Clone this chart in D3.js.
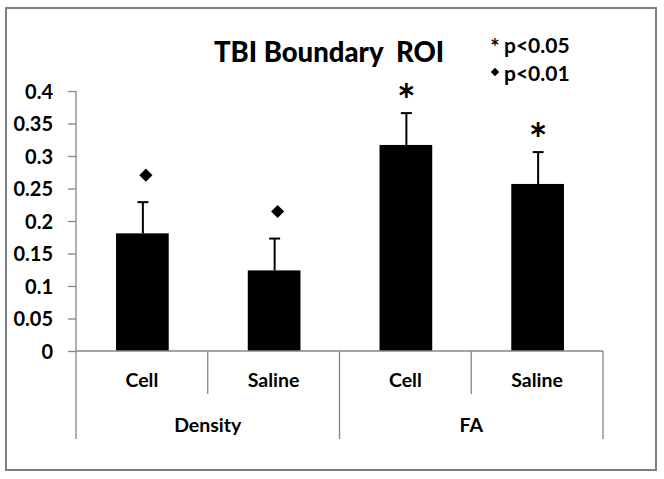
<!DOCTYPE html>
<html><head><meta charset="utf-8">
<script src="https://cdn.jsdelivr.net/npm/d3@7"></script>
<style>html,body{margin:0;padding:0;background:#fff;}svg{display:block;}</style>
</head><body>
<script>
const groups = ["Density", "FA"];
const categories = ["Cell", "Saline", "Cell", "Saline"];
const categoryGroup = [0, 0, 1, 1];
const values = [0.181, 0.124, 0.317, 0.257];
const errors = [0.048, 0.049, 0.049, 0.049];
const markers = ["diamond", "diamond", "asterisk", "asterisk"];
const yTicks = [0, 0.05, 0.1, 0.15, 0.2, 0.25, 0.3, 0.35, 0.4];
const yTickLabels = ["0", "0.05", "0.1", "0.15", "0.2", "0.25", "0.3", "0.35", "0.4"];
const title = "TBI Boundary  ROI";
const legendItems = [{sym: "*", label: "p<0.05"}, {sym: "\u25C6", label: "p<0.01"}];

const W = 664, H = 479;
const FONT = "Lato, 'Open Sans', sans-serif";
const AXIS = "#868686";

const svg = d3.select("body").append("svg").attr("width", W).attr("height", H);
svg.append("rect").attr("x", 0).attr("y", 0).attr("width", W).attr("height", H).attr("fill", "#fff");
svg.append("rect").attr("x", 6).attr("y", 8).attr("width", 650).attr("height", 462)
  .attr("fill", "none").attr("stroke", "#7f7f7f").attr("stroke-width", 2);

const y = d3.scaleLinear().domain([0, 0.4]).range([351, 91]);
const x = d3.scaleBand().domain(d3.range(categories.length)).range([76, 603]).padding(0);

// y axis
const yAxis = d3.axisLeft(y).tickValues(yTicks).tickSize(8).tickPadding(15)
  .tickFormat((d, i) => yTickLabels[i]);
const gy = svg.append("g").attr("transform", "translate(76,0)").call(yAxis);
gy.select(".domain").attr("stroke", AXIS).attr("stroke-width", 1.3).attr("d", "M0,91V351");
gy.selectAll(".tick line").attr("stroke", AXIS).attr("stroke-width", 1.3);
gy.selectAll(".tick text").attr("font-family", FONT).attr("font-weight", "bold")
  .attr("font-size", 20).attr("fill", "#000").attr("dy", "0.35em");

// bars
const barW = x.bandwidth() * 0.4;
svg.append("g").selectAll("rect").data(values).join("rect")
  .attr("x", (d, i) => x(i) + x.bandwidth() / 2 - barW / 2 + 0.5)
  .attr("y", d => y(d))
  .attr("width", barW)
  .attr("height", d => y(0) - y(d))
  .attr("fill", "#000");

// error bars
const eg = svg.append("g").attr("stroke", "#000").attr("stroke-width", 2);
values.forEach((v, i) => {
  const cx = x(i) + x.bandwidth() / 2 + 1;
  eg.append("line").attr("x1", cx).attr("x2", cx).attr("y1", y(v)).attr("y2", y(v + errors[i]));
  eg.append("line").attr("x1", cx - 5.5).attr("x2", cx + 5.5).attr("y1", y(v + errors[i])).attr("y2", y(v + errors[i]));
});

// significance markers
values.forEach((v, i) => {
  const cx = x(i) + x.bandwidth() / 2 + 1;
  const top = y(v + errors[i]);
  if (markers[i] === "diamond") {
    svg.append("path").attr("d", d3.symbol(d3.symbolDiamond2, 110)())
      .attr("transform", `translate(${cx + 3},${top - 27})`).attr("fill", "#000");
  } else {
    svg.append("text").attr("x", cx).attr("y", top + 3).attr("text-anchor", "middle")
      .attr("font-family", FONT).attr("font-weight", "bold").attr("font-size", 44).text("*");
  }
});

// x axis
const xa = svg.append("g").attr("stroke", AXIS).attr("stroke-width", 1.3);
xa.append("line").attr("x1", 76).attr("x2", 603).attr("y1", 351).attr("y2", 351);
const bounds = d3.range(categories.length + 1).map(i => i < categories.length ? x(i) : x.range()[1]);
bounds.forEach((bx, i) => {
  const isGroupEdge = i === 0 || i === categories.length || categoryGroup[i] !== categoryGroup[i - 1];
  xa.append("line").attr("x1", bx).attr("x2", bx).attr("y1", 351).attr("y2", isGroupEdge ? 439 : 394);
});
svg.append("g").selectAll("text").data(categories).join("text")
  .attr("x", (d, i) => x(i) + x.bandwidth() / 2)
  .attr("y", 387).attr("text-anchor", "middle")
  .attr("font-family", FONT).attr("font-weight", "bold").attr("font-size", 19.5).text(d => d);
svg.append("g").selectAll("text").data(groups).join("text")
  .attr("x", (d, gi) => {
    const idx = categoryGroup.map((g, i) => g === gi ? i : -1).filter(i => i >= 0);
    return (x(idx[0]) + x(idx[idx.length - 1]) + x.bandwidth()) / 2;
  })
  .attr("y", 432).attr("text-anchor", "middle")
  .attr("font-family", FONT).attr("font-weight", "bold").attr("font-size", 19.5).text(d => d);

// title
svg.append("text").attr("x", 329).attr("y", 62).attr("text-anchor", "middle")
  .style("white-space", "pre")
  .attr("font-family", FONT).attr("font-weight", "900").attr("font-size", 27.5).text(title);

// legend
legendItems.forEach((it, i) => {
  const ly = 53 + i * 28;
  if (it.sym === "*") {
    svg.append("text").attr("x", 495).attr("y", ly + 2).attr("text-anchor", "middle")
      .attr("font-family", FONT).attr("font-weight", "bold").attr("font-size", 22).text("*");
  } else {
    svg.append("path").attr("d", d3.symbol(d3.symbolDiamond2, 45)())
      .attr("transform", `translate(495,${ly - 9})`).attr("fill", "#000");
  }
  svg.append("text").attr("x", 504).attr("y", ly).attr("font-family", FONT)
    .attr("font-weight", "bold").attr("font-size", 21).text(it.label);
});
</script>
</body></html>
